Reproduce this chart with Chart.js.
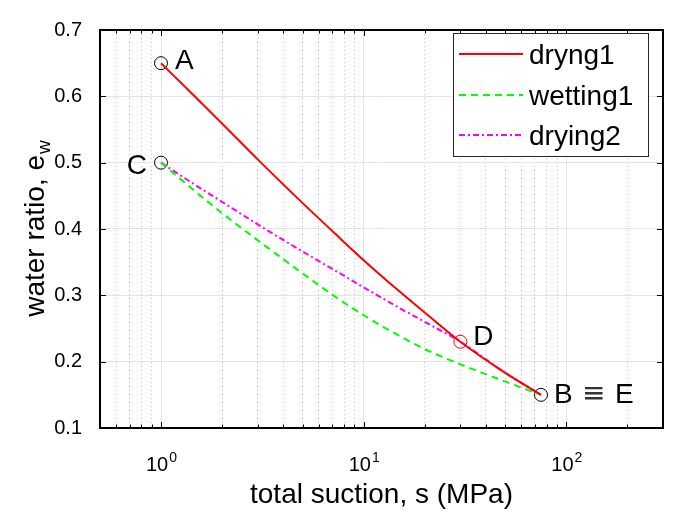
<!DOCTYPE html>
<html>
<head>
<meta charset="utf-8">
<script src="https://cdn.jsdelivr.net/npm/chart.js@4.4.1/dist/chart.umd.min.js"></script>
<style>
  html, body { margin: 0; padding: 0; background: #ffffff; }
  #wrap { width: 673px; height: 513px; }
</style>
</head>
<body>
<div id="wrap"><canvas id="c" width="673" height="513"></canvas></div>
<script>
// Total suction (MPa) at which the water ratio is tabulated
const suction  = [1, 1.5, 2, 3, 5, 7, 10, 15, 20, 30, 50, 75];
// Water ratio e_w along each path
const drying1  = [0.65, 0.597, 0.559, 0.505, 0.439, 0.397, 0.353, 0.306, 0.274, 0.23, 0.183, 0.15];
const wetting1 = [0.5, 0.455, 0.424, 0.383, 0.333, 0.301, 0.27, 0.239, 0.219, 0.196, 0.17, 0.15];
const drying2  = [0.5, 0.465, 0.441, 0.407, 0.366, 0.34, 0.312, 0.281, 0.26, 0.23, 0.183, 0.15];

// Key states on the paths
const keyNames   = ['A', 'C', 'D', 'B \u2261 E'];
const keySuction = [1, 1, 30, 75];
const keyRatio   = [0.65, 0.5, 0.23, 0.15];

const seriesNames = ['dryng1', 'wetting1', 'drying2'];

// Axis ticks
const xGridValues = [0.6, 0.7, 0.8, 0.9, 1, 2, 3, 4, 5, 6, 7, 8, 9, 10, 20, 30, 40, 50, 60, 70, 80, 90, 100, 200];
const xMajorValues = [1, 10, 100];
const xMajorExp = ['0', '1', '2'];
const yTickValues = [0.1, 0.2, 0.3, 0.4, 0.5, 0.6, 0.7];

const FONT = "'Liberation Sans', Arial, Helvetica, sans-serif";
const BIG = 28;

function pts(ys) { return suction.map((s, i) => ({ x: s, y: ys[i] })); }
const isMajor = v => xMajorValues.some(m => Math.abs(v - m) < 1e-9);

const frame = {
  id: 'frame',
  afterDatasetsDraw(chart) {
    const { ctx, chartArea: a, scales } = chart;
    const xs = scales.x, ys = scales.y;
    ctx.save();

    // tick marks pointing inward on all four sides
    ctx.strokeStyle = '#000';
    ctx.lineWidth = 1;
    ctx.beginPath();
    xGridValues.forEach(v => {
      const px = Math.round(xs.getPixelForValue(v)) + 0.5;
      const len = isMajor(v) ? 6 : 3.5;
      ctx.moveTo(px, a.bottom); ctx.lineTo(px, a.bottom - len);
      ctx.moveTo(px, a.top); ctx.lineTo(px, a.top + len);
    });
    yTickValues.forEach(v => {
      const py = Math.round(ys.getPixelForValue(v)) + 0.5;
      ctx.moveTo(a.left, py); ctx.lineTo(a.left + 6, py);
      ctx.moveTo(a.right, py); ctx.lineTo(a.right - 6, py);
    });
    ctx.stroke();

    // axes box
    ctx.lineWidth = 2;
    ctx.strokeRect(a.left, a.top, a.right - a.left, a.bottom - a.top);

    // x tick labels: 10 with raised exponent
    ctx.fillStyle = '#000';
    ctx.textBaseline = 'alphabetic';
    xMajorValues.forEach((v, i) => {
      const px = xs.getPixelForValue(v);
      ctx.font = '20px ' + FONT;
      const wb = ctx.measureText('10').width;
      ctx.font = '14px ' + FONT;
      const we = ctx.measureText(xMajorExp[i]).width;
      const x0 = px - (wb + we) / 2;
      ctx.font = '20px ' + FONT;
      ctx.textAlign = 'left';
      ctx.fillText('10', x0, 471);
      ctx.font = '14px ' + FONT;
      ctx.fillText(xMajorExp[i], x0 + wb + 1, 462);
    });

    // axis titles
    ctx.font = BIG + 'px ' + FONT;
    ctx.textAlign = 'center';
    ctx.textBaseline = 'alphabetic';
    ctx.fillText('total suction, s (MPa)', (a.left + a.right) / 2, 503);

    ctx.save();
    ctx.translate(44, (a.top + a.bottom) / 2);
    ctx.rotate(-Math.PI / 2);
    ctx.font = BIG + 'px ' + FONT;
    const main = 'water ratio, e';
    const wm = ctx.measureText(main).width;
    ctx.font = '19px ' + FONT;
    const ws = ctx.measureText('w').width;
    const start = -(wm + ws) / 2;
    ctx.textAlign = 'left';
    ctx.font = BIG + 'px ' + FONT;
    ctx.fillText(main, start, 0);
    ctx.font = '19px ' + FONT;
    ctx.fillText('w', start + wm + 1, 6);
    ctx.restore();

    // key state labels
    ctx.font = BIG + 'px ' + FONT;
    ctx.textBaseline = 'middle';
    keyNames.forEach((n, i) => {
      const px = xs.getPixelForValue(keySuction[i]);
      const py = ys.getPixelForValue(keyRatio[i]);
      if (n === 'C') {
        ctx.textAlign = 'right';
        ctx.fillText(n, px - 14, py + 4);
      } else if (n === 'A') {
        ctx.textAlign = 'left';
        ctx.fillText(n, px + 14, py - 2);
      } else if (n === 'D') {
        ctx.textAlign = 'left';
        ctx.fillText(n, px + 13, py - 4);
      } else {
        // "B ≡ E" set with wide spacing around the relation sign
        const parts = n.split(' ');
        ctx.textAlign = 'left';
        ctx.font = BIG + 'px ' + FONT;
        ctx.fillText(parts[0], px + 13, py);
        ctx.font = BIG + "px 'DejaVu Sans', sans-serif";
        ctx.fillStyle = '#333';
        ctx.fillText(parts[1], px + 41, py);
        ctx.fillStyle = '#000';
        ctx.font = BIG + 'px ' + FONT;
        ctx.fillText(parts[2], px + 74, py);
      }
    });

    // legend box
    const lx = 453, ly = 33, lw = 195, lh = 123;
    ctx.fillStyle = '#fff';
    ctx.fillRect(lx, ly, lw, lh);
    ctx.strokeStyle = '#262626';
    ctx.lineWidth = 1;
    ctx.strokeRect(lx + 0.5, ly + 0.5, lw, lh);
    const rows = [54, 95, 135];
    seriesNames.forEach((name, i) => {
      const ds = chart.data.datasets[i];
      ctx.save();
      ctx.strokeStyle = ds.borderColor;
      ctx.lineWidth = ds.borderWidth;
      ctx.setLineDash(ds.borderDash || []);
      ctx.beginPath();
      ctx.moveTo(459, rows[i]);
      ctx.lineTo(523, rows[i]);
      ctx.stroke();
      ctx.restore();
      ctx.fillStyle = '#000';
      ctx.font = BIG + 'px ' + FONT;
      ctx.textAlign = 'left';
      ctx.textBaseline = 'middle';
      ctx.fillText(name, 529, rows[i] + 2);
    });

    ctx.restore();
  }
};

new Chart(document.getElementById('c'), {
  type: 'line',
  data: {
    datasets: [
      { label: seriesNames[0], data: pts(drying1), borderColor: '#ff0000', borderWidth: 2, pointRadius: 0, fill: false, cubicInterpolationMode: 'monotone' },
      { label: seriesNames[1], data: pts(wetting1), borderColor: '#00ff00', borderWidth: 2, borderDash: [7, 5], pointRadius: 0, fill: false, cubicInterpolationMode: 'monotone' },
      { label: seriesNames[2], data: pts(drying2), borderColor: '#ff00ff', borderWidth: 2, borderDash: [6, 3, 2, 3], pointRadius: 0, fill: false, cubicInterpolationMode: 'monotone' },
      {
        label: 'key states',
        data: keySuction.map((s, i) => ({ x: s, y: keyRatio[i] })),
        showLine: false,
        pointRadius: 6.5,
        pointBorderWidth: 1,
        pointBackgroundColor: 'rgba(0,0,0,0)',
        pointBorderColor: ['#000000', '#000000', '#ff0000', '#000000']
      }
    ]
  },
  options: {
    responsive: false,
    animation: false,
    devicePixelRatio: 1,
    layout: { padding: { left: 0, right: 10, top: 18, bottom: 0 } },
    plugins: { legend: { display: false }, tooltip: { enabled: false } },
    scales: {
      x: {
        type: 'logarithmic',
        min: 0.5,
        max: 300,
        afterFit(s) { s.height = 85; },
        afterBuildTicks(s) { s.ticks = xGridValues.map(v => ({ value: v })); },
        ticks: { display: false, autoSkip: false },
        grid: {
          drawTicks: false,
          lineWidth: 1,
          color: c => (c.tick && isMajor(c.tick.value)) ? '#e4e4e4' : '#c2c2c2'
        },
        border: {
          display: false,
          dash: c => (c.tick && isMajor(c.tick.value)) ? [] : [1, 3]
        }
      },
      y: {
        min: 0.1,
        max: 0.7,
        afterFit(s) { s.width = 100; },
        afterBuildTicks(s) { s.ticks = yTickValues.map(v => ({ value: v })); },
        ticks: {
          padding: 18,
          color: '#000',
          font: { family: FONT, size: 20 },
          callback: v => Number(v).toFixed(1)
        },
        grid: { drawTicks: false, color: '#e4e4e4', lineWidth: 1 },
        border: { display: false }
      }
    }
  },
  plugins: [frame]
});
</script>
</body>
</html>
